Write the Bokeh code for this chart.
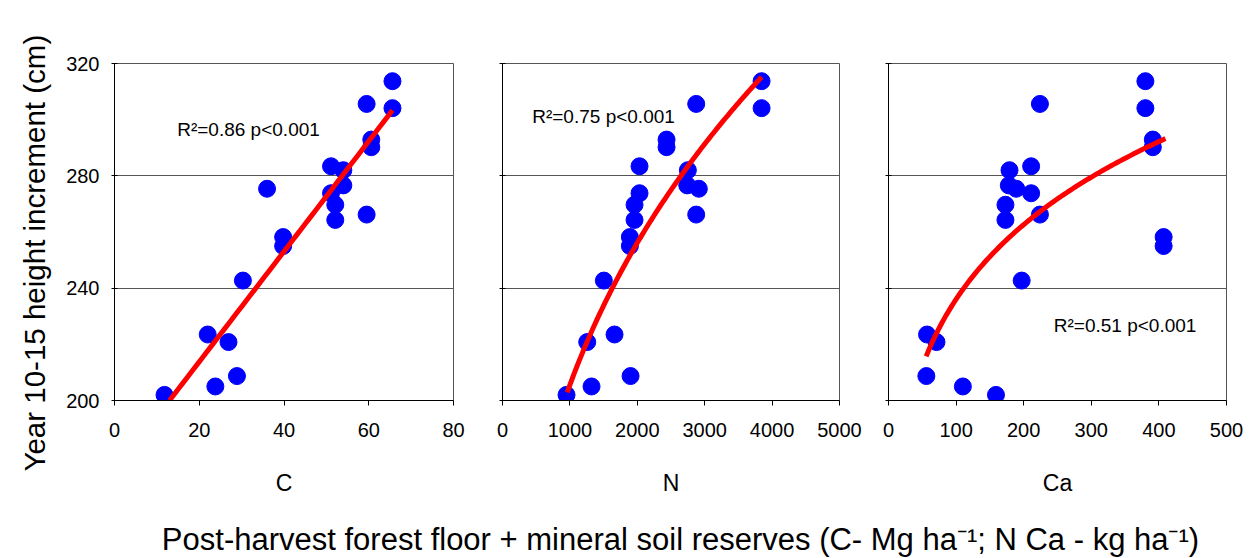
import numpy as np
from bokeh.plotting import figure
from bokeh.layouts import row, column
from bokeh.models import Range1d, FixedTicker, Label, Title
from bokeh.embed import file_html
from bokeh.resources import INLINE

# ---- data ----
height_inc = [202, 223.5, 205, 220.8, 208.7, 242.7, 275.4, 258.2, 255, 283.4, 282,
              276.6, 273.8, 269.7, 264.3, 266.2, 305.6, 292.9, 290.2, 313.7, 304.1]
soil_C = [11.8, 22.0, 23.8, 26.9, 28.9, 30.3, 36.0, 39.8, 39.8, 51.1, 54.0,
          54.0, 51.1, 52.1, 52.1, 59.5, 59.5, 60.6, 60.6, 65.6, 65.6]
soil_N = [950, 1662, 1321, 1257, 1900, 1504, 2913, 1890, 1890, 2033, 2750,
          2741, 2033, 1959, 1959, 2874, 2874, 2434, 2434, 3844, 3844]
soil_Ca = [159, 57, 110, 71, 56, 197, 189, 407, 407, 211, 179,
           178, 211, 173, 173, 224, 224, 391, 391, 380, 380]

panel_labels = ["C", "N", "Ca"]
r2_texts = ["R\u00b2=0.86 p<0.001", "R\u00b2=0.75 p<0.001", "R\u00b2=0.51 p<0.001"]
x_ticks_C = [0, 20, 40, 60, 80]
x_ticks_N = [0, 1000, 2000, 3000, 4000, 5000]
x_ticks_Ca = [0, 100, 200, 300, 400, 500]
y_ticks = [200, 240, 280, 320]

# fitted regression models (coefficients)
fit_C = dict(intercept=174.5, slope=1.964, xmin=13.0, xmax=65.6)          # linear
fit_N = dict(a=22.93, b=0.3175, xmin=960, xmax=3844)                      # power
fit_Ca = dict(a=116.2, b=0.1539, xmin=55.7, xmax=409.7)                   # power

y_title = "Year 10-15 height increment (cm)"
x_title = "Post-harvest forest floor + mineral soil reserves (C- Mg ha\u207b\u00b9; N Ca - kg ha\u207b\u00b9)"

FONT = "Liberation Sans"

xs = np.linspace(fit_C["xmin"], fit_C["xmax"], 50)
curve_C = (xs, fit_C["intercept"] + fit_C["slope"] * xs)
xs = np.linspace(fit_N["xmin"], fit_N["xmax"], 120)
curve_N = (xs, fit_N["a"] * xs ** fit_N["b"])
xs = np.linspace(fit_Ca["xmin"], fit_Ca["xmax"], 120)
curve_Ca = (xs, fit_Ca["a"] * xs ** fit_Ca["b"])

TOP = 63
BOTTOM = 110
FH = 337


def make_panel(xvals, ticks, label, curve, r2, r2_x, r2_y, fw, bl, br, first):
    p = figure(frame_width=fw, frame_height=FH,
               x_range=Range1d(ticks[0], ticks[-1]), y_range=Range1d(200, 320),
               toolbar_location=None, output_backend="svg",
               min_border_left=bl, min_border_right=br,
               min_border_top=TOP, min_border_bottom=BOTTOM)
    p.outline_line_color = "#555555"
    p.xgrid.visible = False
    p.ygrid.ticker = FixedTicker(ticks=[240, 280])
    p.ygrid.grid_line_color = "#555555"
    p.ygrid.grid_line_width = 1

    xa = p.xaxis[0]
    xa.ticker = FixedTicker(ticks=ticks)
    xa.axis_line_color = "black"
    xa.major_tick_line_color = "black"
    xa.major_tick_in = 0
    xa.major_tick_out = 5
    xa.minor_tick_line_color = None
    xa.major_label_text_font = FONT
    xa.major_label_text_font_size = "20px"
    xa.major_label_text_color = "black"
    xa.major_label_standoff = 17
    xa.axis_label = label
    xa.axis_label_text_font = FONT
    xa.axis_label_text_font_size = "23px"
    xa.axis_label_text_font_style = "normal"
    xa.axis_label_text_color = "black"
    xa.axis_label_standoff = 30

    ya = p.yaxis[0]
    ya.ticker = FixedTicker(ticks=y_ticks)
    ya.axis_line_color = "black"
    ya.major_tick_line_color = "black"
    ya.major_tick_in = 3
    ya.major_tick_out = 3
    ya.minor_tick_line_color = None
    ya.major_label_text_font = FONT
    ya.major_label_text_color = "black"
    ya.major_label_text_font_size = "20px"
    if first:
        ya.major_label_standoff = 12
    else:
        ya.major_label_overrides = {t: "" for t in y_ticks}
        ya.major_label_standoff = 0

    p.scatter(xvals, height_inc, size=17, color="#0000ff", line_color="#0000ff")
    p.line(curve[0], curve[1], line_color="#ff0000", line_width=5)

    p.add_layout(Label(x=r2_x, y=r2_y, text=r2, text_font=FONT, text_font_size="19px",
                       text_color="black", text_baseline="alphabetic", text_align="left"))
    return p


p1 = make_panel(soil_C, x_ticks_C, panel_labels[0], curve_C, r2_texts[0], 14.8, 296.5,
                339, 114, 29, True)
p2 = make_panel(soil_N, x_ticks_N, panel_labels[1], curve_N, r2_texts[1], 441, 301.0,
                337, 20, 29, False)
p3 = make_panel(soil_Ca, x_ticks_Ca, panel_labels[2], curve_Ca, r2_texts[2], 244.5, 226.8,
                338, 20, 20, False)

# y title, left of the first panel; starts below the frame bottom as in the reference
p1.add_layout(Title(text=y_title, align="left", offset=-71, standoff=26,
                    text_font=FONT, text_font_size="29.5px", text_font_style="normal",
                    text_color="black"), "left")

# x title strip (bottom)
STRIP_H = 48
pt = figure(width=1246, height=STRIP_H, x_range=Range1d(0, 1246), y_range=Range1d(0, STRIP_H),
            toolbar_location=None, output_backend="svg",
            x_axis_location=None, y_axis_location=None, min_border=0)
pt.outline_line_color = None
pt.grid.visible = False
pt.add_layout(Label(x=680, y=19, text=x_title, text_font=FONT, text_font_size="31px",
                    text_color="black", text_align="center", text_baseline="alphabetic"))

layout = column(row(p1, p2, p3), pt)

open("out.html", "w").write(file_html(layout, INLINE))
